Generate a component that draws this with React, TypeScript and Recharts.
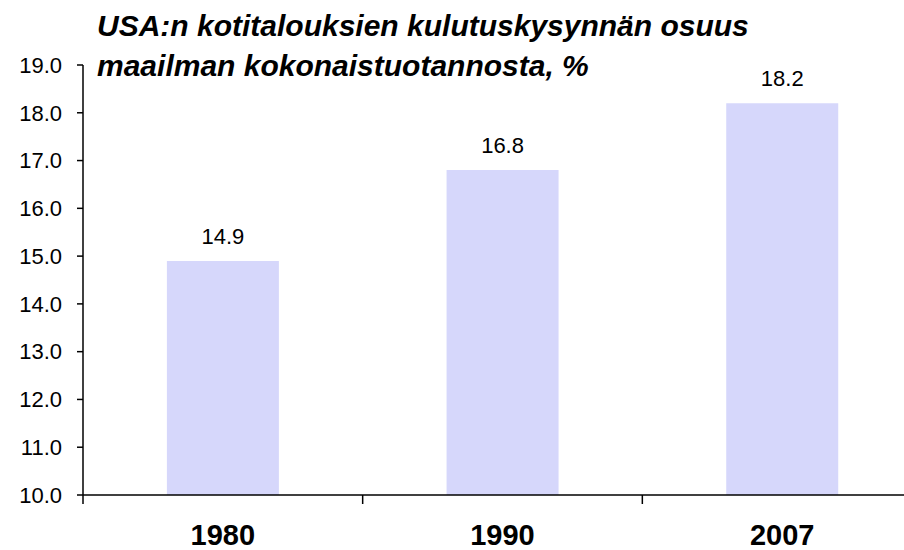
import { BarChart, Bar, XAxis, YAxis, LabelList } from 'recharts';

const years = ['1980', '1990', '2007'];
const shares = [14.9, 16.8, 18.2];
const yTicks = [10, 11, 12, 13, 14, 15, 16, 17, 18, 19];

const data = years.map((year, i) => ({ year, share: shares[i] }));

const font = '"Liberation Sans", Arial, sans-serif';
const LABEL_GAP = 29;
const BOUNDARY_TICK = 9;

// category label plus a tick mark at the left edge of each category band
const YearTick = (props: any) => {
  const { x, y, payload } = props;
  const axisY = y - LABEL_GAP;
  const edge = x - (payload.offset || 0);
  return (
    <g>
      <line x1={edge} x2={edge} y1={axisY} y2={axisY + BOUNDARY_TICK} stroke="#000" strokeWidth={1.5} />
      <text
        x={x}
        y={y}
        dy="0.71em"
        textAnchor="middle"
        fill="#000"
        fontSize={29}
        fontWeight="bold"
        fontFamily={font}
      >
        {payload.value}
      </text>
    </g>
  );
};

export default function App() {
  return (
    <div style={{ position: 'absolute', left: 0, top: 0, width: 904, height: 550, overflow: 'hidden', background: '#fff' }}>
      <div
        style={{
          position: 'absolute',
          left: 97,
          top: 6,
          fontFamily: font,
          fontWeight: 'bold',
          fontStyle: 'italic',
          fontSize: 30,
          lineHeight: '40px',
          color: '#000',
          zIndex: 2,
          whiteSpace: 'nowrap',
        }}
      >
        USA:n kotitalouksien kulutuskysynnän osuus
        <br />
        maailman kokonaistuotannosta, %
      </div>
      <BarChart
        width={922}
        height={550}
        data={data}
        margin={{ top: 65, right: 0, bottom: 0, left: 0 }}
        barCategoryGap="30%"
      >
        <XAxis
          dataKey="year"
          height={55}
          tickLine={false}
          tickSize={0}
          tickMargin={LABEL_GAP}
          axisLine={{ stroke: '#000', strokeWidth: 1.5 }}
          tick={<YearTick />}
        />
        <YAxis
          width={83}
          domain={[10, 19]}
          ticks={yTicks}
          interval={0}
          allowDataOverflow
          tickFormatter={(v: number) => v.toFixed(1)}
          tickSize={6}
          tickMargin={15}
          axisLine={{ stroke: '#000', strokeWidth: 1.5 }}
          tickLine={{ stroke: '#000', strokeWidth: 1.5 }}
          tick={{ fill: '#000', fontSize: 22, fontFamily: font }}
        />
        <Bar dataKey="share" fill="#D6D7FB" isAnimationActive={false}>
          <LabelList
            dataKey="share"
            position="top"
            offset={17}
            formatter={(v: number) => v.toFixed(1)}
            style={{ fill: '#000', fontSize: 22, fontFamily: font }}
          />
        </Bar>
      </BarChart>
    </div>
  );
}
